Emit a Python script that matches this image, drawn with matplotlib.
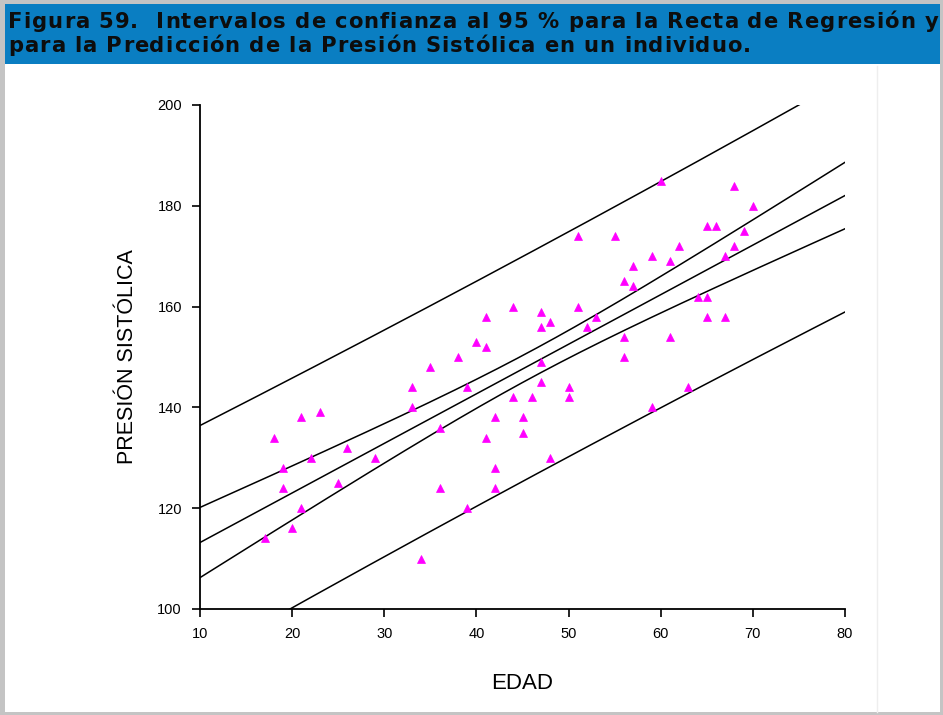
import numpy as np
import matplotlib
matplotlib.use("Agg")
import matplotlib.pyplot as plt
from matplotlib.patches import Rectangle
from matplotlib.lines import Line2D
from matplotlib.font_manager import FontProperties

# Sample: age (EDAD) and systolic pressure (PRESIÓN SISTÓLICA)
edad = [18, 19, 19, 17, 20, 21, 21, 22, 23, 25, 26, 29, 33, 33, 34, 35, 36, 36,
        38, 39, 39, 40, 41, 41, 41, 42, 42, 42, 44, 44, 45, 45, 46, 47, 47, 47,
        47, 48, 48, 50, 50, 51, 51, 52, 53, 55, 56, 56, 56, 57, 57, 59, 59, 60,
        61, 61, 62, 63, 64, 65, 65, 65, 66, 67, 67, 68, 68, 69, 70]
presion = [134, 128, 124, 114, 116, 120, 138, 130, 139, 125, 132, 130, 144, 140,
           110, 148, 136, 124, 150, 144, 120, 153, 152, 158, 134, 138, 128, 124,
           160, 142, 138, 135, 142, 159, 156, 149, 145, 157, 130, 144, 142, 174,
           160, 156, 158, 174, 165, 154, 150, 168, 164, 170, 140, 185, 169, 154,
           172, 144, 162, 162, 176, 158, 176, 158, 170, 184, 172, 175, 180]

x_ticks = [10, 20, 30, 40, 50, 60, 70, 80]
y_ticks = [100, 120, 140, 160, 180, 200]
T_CRIT = 1.996  # Student t, 0.975 quantile, n - 2 degrees of freedom

title_lines = ["Figura 59.  Intervalos de confianza al 95 % para la Recta de Regresión y",
               "para la Predicción de la Presión Sistólica en un individuo."]

# ---- least squares fit and 95 % bands ----
x = np.asarray(edad, float)
y = np.asarray(presion, float)
n = len(x)
xm = x.mean()
sxx = ((x - xm) ** 2).sum()
b1 = ((x - xm) * (y - y.mean())).sum() / sxx
b0 = y.mean() - b1 * xm
resid = y - (b0 + b1 * x)
s = np.sqrt((resid ** 2).sum() / (n - 2))

xg = np.linspace(x_ticks[0], x_ticks[-1], 300)
yfit = b0 + b1 * xg
h_mean = T_CRIT * s * np.sqrt(1 / n + (xg - xm) ** 2 / sxx)
h_pred = T_CRIT * s * np.sqrt(1 + 1 / n + (xg - xm) ** 2 / sxx)

# ---- page ----
W, H = 943, 715
DPI = 100
fig = plt.figure(figsize=(W / DPI, H / DPI), dpi=DPI)
fig.patch.set_facecolor("#c4c4c4")


def box(x0, y0, x1, y1, **kw):
    fig.add_artist(Rectangle((x0 / W, 1 - y1 / H), (x1 - x0) / W, (y1 - y0) / H,
                             transform=fig.transFigure, zorder=-5, **kw))


box(5, 64, 940, 712, facecolor="white", edgecolor="none")
box(5, 4, 940, 64, facecolor="#0a7ec2", edgecolor="none")
fig.add_artist(Line2D([877 / W, 877 / W], [1 - 712 / H, 1 - 66 / H],
                      transform=fig.transFigure, color="#eeeeee", lw=1,
                      zorder=-4))

# ---- letter-spaced heading ----
title_fp = FontProperties(family="DejaVu Sans", weight="bold", size=15.2)
renderer = fig.canvas.get_renderer()


def text_w(s):
    t = fig.text(0, 0, s, fontproperties=title_fp)
    w = t.get_window_extent(renderer).width
    t.remove()
    return w


_bar2 = text_w("||")
adv_cache = {}


def adv_px(ch):
    if ch not in adv_cache:
        adv_cache[ch] = text_w("|" + ch + "|") - _bar2
    return adv_cache[ch]


x_left, x_right = 8, 938
first = title_lines[0]
natural = sum(adv_px(c) for c in first)
spacing = max(0.0, (x_right - x_left - natural) / (len(first) - 1))

for i, line in enumerate(title_lines):
    xpos = x_left
    ypos = 1 - (22 + 23.5 * i) / H
    for ch in line:
        if ch != " ":
            fig.text(xpos / W, ypos, ch, ha="left", va="center",
                     fontproperties=title_fp, color="#0d0d0d")
        xpos += adv_px(ch) + spacing

# ---- plot area ----
ax = fig.add_axes([200 / W, 1 - 609 / H, 645 / W, 504 / H])
ax.patch.set_alpha(0)
ax.set_xlim(x_ticks[0], x_ticks[-1])
ax.set_ylim(y_ticks[0], y_ticks[-1])

line_kw = dict(color="black", lw=1.1)
ax.plot(xg, yfit + h_pred, **line_kw)
ax.plot(xg, yfit + h_mean, **line_kw)
ax.plot(xg, yfit, **line_kw)
ax.plot(xg, yfit - h_mean, **line_kw)
ax.plot(xg, yfit - h_pred, **line_kw)

ax.plot(edad, presion, ls="none", marker="^", ms=5.2, mfc="#ff00ff",
        mec="#ff00ff", mew=0.5)

for side in ("top", "right"):
    ax.spines[side].set_visible(False)
for side in ("left", "bottom"):
    ax.spines[side].set_linewidth(1.3)
ax.set_xticks(x_ticks)
ax.set_yticks(y_ticks)
ax.tick_params(direction="out", length=6, width=1.2, labelsize=10.5, pad=7)
for lab in ax.get_xticklabels() + ax.get_yticklabels():
    lab.set_family("Liberation Sans")

ax.set_xlabel("EDAD", fontsize=16, family="Liberation Sans", labelpad=23)
ax.set_ylabel("PRESIÓN SISTÓLICA", fontsize=15.5, family="Liberation Sans",
              labelpad=14)

fig.savefig("out.png", dpi=DPI, facecolor=fig.get_facecolor())
